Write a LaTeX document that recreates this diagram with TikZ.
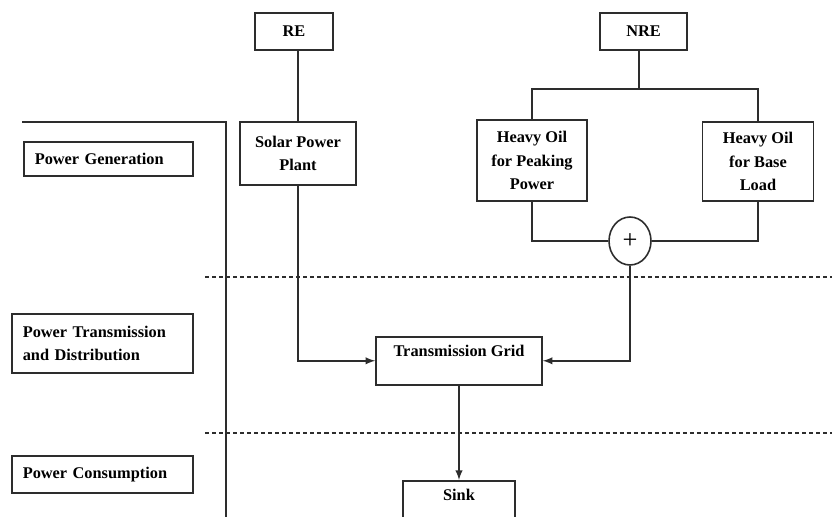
\documentclass[tikz,border=0pt]{standalone}
\usepackage{fontspec}
\setmainfont{Liberation Serif}
\usetikzlibrary{shapes,arrows,positioning,calc}
\definecolor{inkgray}{RGB}{45,45,45}

\begin{document}
\begin{tikzpicture}[x=0.02cm,y=-0.02cm,
        box/.style={draw=inkgray,line width=0.9pt,inner sep=0pt,align=center,font=\bfseries\fontsize{9.3}{13.3}\selectfont},
        stage/.style={box,align=left,inner xsep=0.22cm,anchor=west},
        link/.style={draw=inkgray,line width=0.9pt},
        feed/.style={link,-latex}]
        \useasboundingbox (0,0) rectangle (832,517);
        \clip (0,0) rectangle (832,517);

        % stages on the left
        \node[stage,text width=2.94cm,minimum height=0.68cm] (gen) at (23,159) {Power Generation};
        \node[stage,text width=3.18cm,minimum height=1.18cm] (trans) at (11,343.5) {Power Transmission\\and Distribution};
        \node[stage,text width=3.18cm,minimum height=0.74cm] (cons) at (11,474.5) {Power Consumption};
        \draw[link] (22,122) -- (226,122) -- (226,517);
        \draw[link,line width=0.6pt,dash pattern=on 2.3pt off 1.7pt] (205,277) -- (832,277);
        \draw[link,line width=0.6pt,dash pattern=on 2.3pt off 1.7pt] (205,433) -- (832,433);

        % sources
        \node[box,minimum width=1.56cm,minimum height=0.74cm] (re) at (294,31.5) {RE};
        \node[box,minimum width=1.74cm,minimum height=0.74cm] (nre) at (643.5,31.5) {NRE};
        \node[box,minimum width=2.32cm,minimum height=1.26cm] (solar) at (298,153.5) {Solar Power\\Plant};
        \node[box,minimum width=2.2cm,minimum height=1.62cm] (peak) at (532,160.5) {Heavy Oil\\for Peaking\\Power};
        \node[box,minimum width=2.22cm,minimum height=1.58cm] (base) at (758,161.5) {Heavy Oil\\for Base\\Load};
        \node[ellipse,draw=inkgray,line width=0.9pt,inner sep=0pt,minimum width=0.84cm,minimum height=0.96cm,font=\fontsize{15}{15}\selectfont] (sum) at (630,241) {+};

        % grid and sink
        \node[box,minimum width=3.32cm,inner ysep=0.1cm,text height=0.3cm,text depth=0.46cm,anchor=north] (grid) at (459,336) {Transmission Grid};
        \node[box,minimum width=2.24cm,inner ysep=0.1cm,text height=0.3cm,text depth=1cm,anchor=north] (sink) at (459,480) {Sink};

        \coordinate (split) at (639,89);
        \draw[link] (re.south -| solar.north) -- (solar.north);
        \draw[link] (nre.south -| split) -- (split);
        \draw[link] (peak.north) |- (split) -| (base.north);
        \draw[link] (peak.south) |- (sum.west);
        \draw[link] (base.south) |- (sum.east);
        \draw[feed] (solar.south) |- (grid.west);
        \draw[feed] (sum.south) |- (grid.east);
        \draw[feed] (grid.south) -- (sink.north);
    \end{tikzpicture}
\end{document}
